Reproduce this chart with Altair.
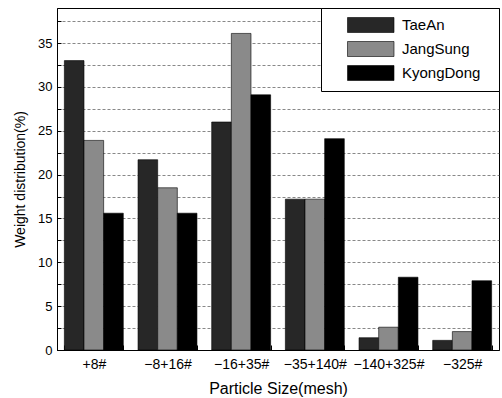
import altair as alt
import pandas as pd

# Particle size classes (mesh) and weight distribution (%) per sample
sizes = ["+8#", "\u22128+16#", "\u221216+35#", "\u221235+140#", "\u2212140+325#", "\u2212325#"]
samples = ["TaeAn", "JangSung", "KyongDong"]
taean = [33.0, 21.7, 26.0, 17.2, 1.4, 1.1]
jangsung = [23.9, 18.5, 36.1, 17.2, 2.6, 2.1]
kyongdong = [15.6, 15.6, 29.1, 24.1, 8.3, 7.9]

rows = []
for name, vals in zip(samples, [taean, jangsung, kyongdong]):
    for s, v in zip(sizes, vals):
        rows.append({"size": s, "sample": name, "pct": v})
df = pd.DataFrame(rows)

FONT = "Liberation Sans"

bars = alt.Chart(df).mark_bar(stroke="black", strokeWidth=0.6).encode(
    x=alt.X(
        "size:N",
        sort=sizes,
        scale=alt.Scale(paddingInner=0.2, paddingOuter=0.1),
        axis=alt.Axis(
            title="Particle Size(mesh)",
            labelAngle=0,
            tickBand="extent",
            grid=False,
            tickSize={"expr": "-5"},
            labelPadding=12,
            labelFontSize=14,
            titleFontSize=16,
            titlePadding=9,
        ),
    ),
    xOffset=alt.XOffset("sample:N", sort=samples),
    y=alt.Y(
        "pct:Q",
        scale=alt.Scale(domain=[0, 39], nice=False),
        axis=alt.Axis(
            title="Weight distribution(%)",
            values=[i * 2.5 for i in range(16)],
            labelExpr="datum.value % 5 === 0 ? datum.label : ''",
            tickSize={"expr": "-4"},
            labelPadding=9,
            labelFontSize=13,
            titleFontSize=14,
            titlePadding=10,
            grid=True,
            gridColor="#555555",
            gridDash=[3, 2],
            gridWidth=0.7,
        ),
    ),
    color=alt.Color(
        "sample:N",
        sort=samples,
        scale=alt.Scale(domain=samples, range=["#272727", "#8a8a8a", "#000000"]),
        legend=alt.Legend(
            title=" ",
            titleOrient="right",
            titlePadding=10,
            orient="top-right",
            offset=0,
            symbolType="M-1,-1L5.2,-1L5.2,1L-1,1Z",
            symbolSize=225,
            symbolStrokeColor="black",
            symbolStrokeWidth=0.6,
            labelOffset=39,
            symbolOffset=17,
            padding=9,
            rowPadding=6,
            fillColor="white",
            strokeColor="black",
            labelFontSize=15,
            labelFont=FONT,
            labelColor="black",
        ),
    ),
)

chart = bars.properties(
    width=442,
    height=342,
    padding={"left": 57, "top": 8, "right": 3, "bottom": 48},
    autosize=alt.AutoSizeParams(type="none"),
).configure_view(
    stroke="black", strokeWidth=1
).configure_axis(
    domainColor="black",
    tickColor="black",
    labelColor="black",
    titleColor="black",
    labelFont=FONT,
    titleFont=FONT,
    titleFontWeight="normal",
)

chart.save("out.html", embed_options={"renderer": "svg", "actions": False})
